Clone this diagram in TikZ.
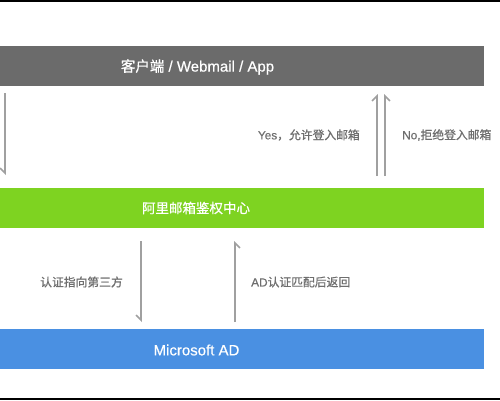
\documentclass[tikz,border=0pt]{standalone}
\usepackage{fontspec}
\setmainfont{Liberation Sans}
\newfontfamily\cjk{Noto Sans CJK SC}
\newfontfamily\cjkb{Noto Sans CJK SC}[FakeBold=0.6]
\newfontfamily\latb{Liberation Sans}[FakeBold=0.5]
\usetikzlibrary{arrows.meta}
\definecolor{boxgray}{HTML}{6B6B6B}
\definecolor{boxgreen}{HTML}{7ED321}
\definecolor{boxblue}{HTML}{4A90E2}
\definecolor{arrgray}{HTML}{A0A0A0}
\definecolor{txtgray}{HTML}{6E6E6E}
\begin{document}
\begin{tikzpicture}[x=1pt,y=-1pt,
  band/.style={draw=none,minimum width=484pt,minimum height=40pt,inner sep=0pt,anchor=north west},
  bandtext/.style={text=white,font=\fontsize{13}{15}\selectfont,inner sep=0pt},
  lbl/.style={text=txtgray,font=\fontsize{11.8}{13}\selectfont,inner sep=0pt},
  flowdn/.style={draw=arrgray,line width=1.6pt,-{Straight Barb[harpoon,swap,length=5pt,width=10pt]}},
  flowupl/.style={draw=arrgray,line width=1.6pt,-{Straight Barb[harpoon,length=5pt,width=10pt]}},
  flowupr/.style={draw=arrgray,line width=1.6pt,-{Straight Barb[harpoon,swap,length=5pt,width=10pt]}}]
\useasboundingbox (0,0) rectangle (500,400);
\fill[white] (0,0) rectangle (500,400);
\fill[black] (0,0) rectangle (500,2);
\fill[black] (0,398) rectangle (500,400);
\node[band,fill=boxgray] (client) at (0,46) {};
\node[band,fill=boxgreen] (auth) at (0,188) {};
\node[band,fill=boxblue] (ad) at (0,329) {};
\node[bandtext] (tclient) at (197.5,67) {{\cjkb\fontsize{14.5}{15}\selectfont 客户端}\latb\fontsize{15}{15}\selectfont\ / Webmail / App};
\node[bandtext] (tauth) at (196,208) {\cjkb\fontsize{13.5}{15}\selectfont 阿里邮箱鉴权中心};
\node[bandtext] (tad) at (196.5,350) {\latb\fontsize{15}{15}\selectfont Microsoft AD};
% arrows top
\coordinate (a1s) at (5,93);
\coordinate (a1e) at (5,175);
\draw[flowdn] (a1s) -- (a1e);
\coordinate (y1s) at (377,176);
\coordinate (y1e) at (377,94);
\draw[flowupl] (y1s) -- (y1e);
\coordinate (y2s) at (385,176);
\coordinate (y2e) at (385,94);
\draw[flowupr] (y2s) -- (y2e);
% arrows bottom
\coordinate (d1s) at (141,241);
\coordinate (d1e) at (141,322);
\draw[flowdn] (d1s) -- (d1e);
\coordinate (u1s) at (235,322);
\coordinate (u1e) at (235,241);
\draw[flowupr] (u1s) -- (u1e);
% labels
\node[lbl,anchor=east] (lyes) at (360,135) {\latb Yes{\cjkb ，允许登入邮箱}};
\node[lbl,anchor=west] (lno) at (402,135) {\latb No,{\cjkb 拒绝登入邮箱}};
\node[lbl,anchor=west] (lthird) at (40,282) {\cjkb 认证指向第三方};
\node[lbl,anchor=west] (lret) at (251,282) {\latb AD{\cjkb 认证匹配后返回}};
\end{tikzpicture}
\end{document}
